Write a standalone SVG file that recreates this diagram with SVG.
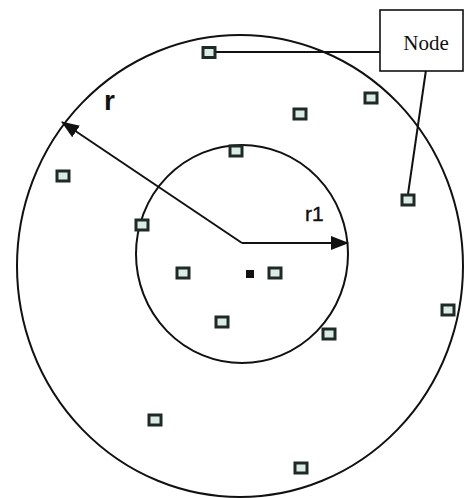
<svg xmlns="http://www.w3.org/2000/svg" width="464" height="498" viewBox="0 0 464 498">
<style>
.n rect{fill:#dcebe6;stroke:#1e2a26;stroke-width:3}
.c{fill:none;stroke:#111;stroke-width:2}
.l{stroke:#111;stroke-width:2;fill:none}
</style>
<defs>
<marker id="ah" viewBox="0 0 18 14" refX="17" refY="7" markerWidth="18" markerHeight="14" markerUnits="userSpaceOnUse" orient="auto">
<path d="M0,0 L18,7 L0,14 Z" fill="#111"/>
</marker>
</defs>
<rect width="464" height="498" fill="#fff"/>
<g id="outer"><ellipse class="c" cx="240" cy="266" rx="223" ry="231"/></g>
<g id="inner"><ellipse class="c" cx="242" cy="254" rx="106" ry="109"/></g>
<g id="connectors">
<line class="l" x1="242" y1="243" x2="62" y2="122" marker-end="url(#ah)"/>
<line class="l" x1="242" y1="243" x2="348" y2="243" marker-end="url(#ah)"/>
<line class="l" x1="215" y1="52" x2="400" y2="52"/>
<line class="l" x1="427" y1="63" x2="408" y2="194"/>
</g>
<g id="label-box"><rect x="380" y="10" width="83" height="61" fill="#fff" stroke="#111" stroke-width="1.6"/>
<text x="426" y="50" font-family="Liberation Serif, serif" font-size="21" text-anchor="middle" fill="#111">Node</text></g>
<g id="label-r"><text x="104" y="110" font-family="Liberation Sans, Arial, sans-serif" font-size="28" font-weight="bold" fill="#111">r</text></g>
<g id="label-r1"><text x="305" y="221" font-family="Liberation Sans, Arial, sans-serif" font-size="21" fill="#111" stroke="#111" stroke-width="0.4">r1</text></g>
<g id="center"><rect x="246" y="270" width="8" height="8" fill="#111"/></g>
<g id="n1" class="n"><rect x="203" y="47.5" width="12" height="10"/></g>
<g id="n2" class="n"><rect x="365" y="93" width="12" height="10"/></g>
<g id="n3" class="n"><rect x="294" y="109" width="12" height="10"/></g>
<g id="n4" class="n"><rect x="230" y="146" width="12" height="10"/></g>
<g id="n5" class="n"><rect x="57" y="171" width="12" height="10"/></g>
<g id="n6" class="n"><rect x="402" y="195" width="12" height="10"/></g>
<g id="n7" class="n"><rect x="136" y="220" width="12" height="10"/></g>
<g id="n8" class="n"><rect x="177" y="268" width="12" height="10"/></g>
<g id="n9" class="n"><rect x="269" y="268" width="12" height="10"/></g>
<g id="n10" class="n"><rect x="442" y="305" width="12" height="10"/></g>
<g id="n11" class="n"><rect x="216" y="317" width="12" height="10"/></g>
<g id="n12" class="n"><rect x="323" y="329" width="12" height="10"/></g>
<g id="n13" class="n"><rect x="149" y="415" width="12" height="10"/></g>
<g id="n14" class="n"><rect x="295" y="463" width="12" height="10"/></g>
</svg>
